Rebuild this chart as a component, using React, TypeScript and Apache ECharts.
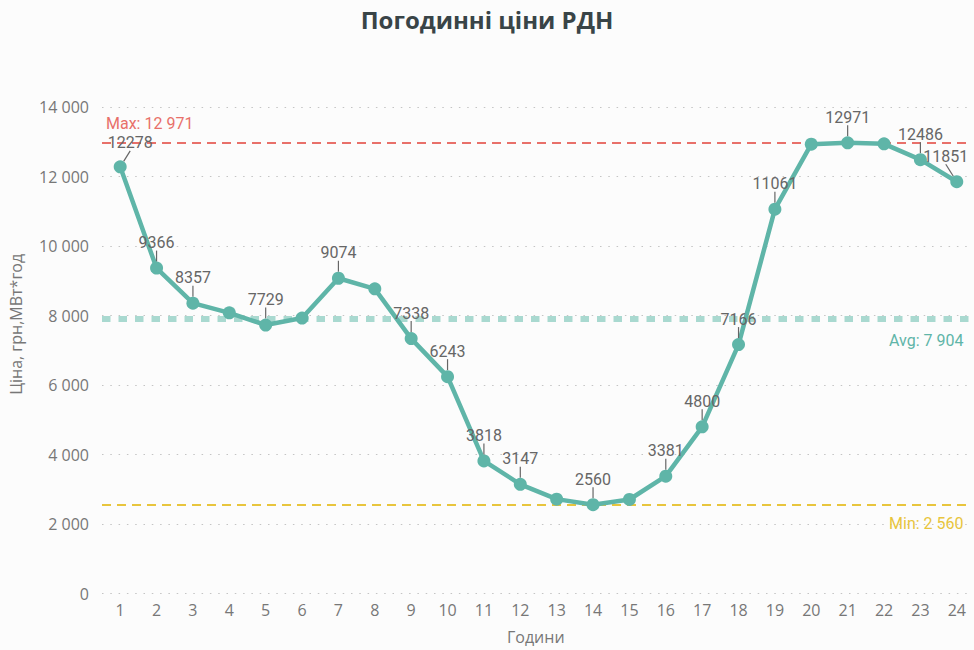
import React, { useEffect, useRef } from "react";
import * as echarts from "echarts";

const TITLE = "Погодинні ціни РДН";
const Y_NAME = "Ціна, грн,МВт*год";
const X_NAME = "Години";

const hours = [1, 2, 3, 4, 5, 6, 7, 8, 9, 10, 11, 12, 13, 14, 15, 16, 17, 18, 19, 20, 21, 22, 23, 24];
const prices = [12278, 9366, 8357, 8080, 7729, 7930, 9074, 8770, 7338, 6243, 3818, 3147, 2720, 2560, 2710, 3381, 4800, 7166, 11061, 12930, 12971, 12940, 12486, 11851];
const labeledHours = [1, 2, 3, 5, 7, 9, 10, 11, 12, 14, 16, 17, 18, 19, 21, 23, 24];
const yTicks = [0, 2000, 4000, 6000, 8000, 10000, 12000, 14000];

const fmt = (v: number) => String(Math.round(v)).replace(/\B(?=(\d{3})+(?!\d))/g, " ");

const TEAL = "#5fb5a8";
const RED = "#e8706a";
const YELLOW = "#e8c53d";
const AVG_LINE = "#a9d9d0";
const GREY = "#777777";

export default function App() {
  const ref = useRef<HTMLDivElement>(null);
  useEffect(() => {
    if (!ref.current) return;
    const chart = echarts.init(ref.current, null, { renderer: "svg" });
    const lastIdx = hours.length - 1;
    const data = hours.map((h, i) => {
      const show = labeledHours.includes(h);
      return {
        value: [h, prices[i]],
        label: { show },
        labelLine: { show },
      };
    });
    chart.setOption({
      animation: false,
      backgroundColor: "#fcfcfc",
      title: {
        text: TITLE,
        left: "center",
        top: 2,
        textStyle: { fontFamily: "Open Sans", fontWeight: "bold", fontSize: 24, color: "#394447" },
      },
      grid: { left: 101, right: 4.5, top: 107, bottom: 56.3, containLabel: false },
      xAxis: {
        type: "value",
        min: 0.5,
        max: 24.35,
        name: X_NAME,
        nameLocation: "middle",
        nameGap: 35,
        nameTextStyle: { fontFamily: "Open Sans", fontSize: 16, color: GREY },
        axisLine: { show: false },
        axisTick: { show: false },
        splitLine: { show: false },
        axisLabel: {
          customValues: hours,
          fontFamily: "Open Sans",
          fontSize: 16,
          color: GREY,
          margin: 8,
        },
      },
      yAxis: {
        type: "value",
        min: yTicks[0],
        max: yTicks[yTicks.length - 1],
        interval: yTicks[1] - yTicks[0],
        name: Y_NAME,
        nameLocation: "middle",
        nameGap: 78,
        nameTextStyle: { fontFamily: "Open Sans", fontSize: 16, color: GREY, padding: [0, 0, 0, 52] },
        axisLine: { show: false },
        axisTick: { show: false },
        axisLabel: {
          fontFamily: "Open Sans",
          fontSize: 16,
          color: GREY,
          margin: 13,
          formatter: (v: number) => fmt(v),
        },
        splitLine: { show: true, lineStyle: { color: "#c4c4c4", width: 1.2, type: [1.5, 6.8] } },
      },
      series: [
        {
          type: "line",
          data,
          z: 6,
          symbol: "circle",
          symbolSize: 13,
          lineStyle: { color: TEAL, width: 4.5 },
          itemStyle: { color: TEAL },
          label: {
            position: "top",
            distance: 3,
            fontFamily: "Roboto",
            fontSize: 16,
            lineHeight: 14,
            color: "#666666",
            formatter: (p: any) => String(p.value[1]),
          },
          labelLine: { lineStyle: { color: "#666666", width: 1.2 } },
          labelLayout: (p: any) => ({
            dy: p.dataIndex === 0 ? -7.5 : -9,
            dx: p.dataIndex === 0 ? 10 : p.dataIndex === lastIdx ? -11 : 0,
          }),
          markLine: {
            silent: true,
            z: 1,
            symbol: ["none", "none"],
            data: [
              {
                type: "max",
                valueIndex: 1,
                lineStyle: { color: RED, width: 2, type: [9, 6] },
                label: {
                  position: "insideStartTop",
                  distance: [4, 12.5],
                  fontFamily: "Roboto",
                  fontSize: 16,
                  lineHeight: 14,
                  color: RED,
                  formatter: (p: any) => "Max: " + fmt(p.value),
                },
              },
              {
                type: "average",
                valueIndex: 1,
                lineStyle: { color: AVG_LINE, width: 6, type: [8.5, 8] },
                label: {
                  position: "insideEndBottom",
                  distance: [6, 14],
                  fontFamily: "Roboto",
                  fontSize: 16,
                  color: TEAL,
                  formatter: (p: any) => "Avg: " + fmt(p.value),
                },
              },
              {
                type: "min",
                valueIndex: 1,
                lineStyle: { color: YELLOW, width: 2, type: [9, 6] },
                label: {
                  position: "insideEndBottom",
                  distance: [6, 11],
                  fontFamily: "Roboto",
                  fontSize: 16,
                  color: YELLOW,
                  formatter: (p: any) => "Min: " + fmt(p.value),
                },
              },
            ],
          },
        },
      ],
    });
    return () => chart.dispose();
  }, []);
  return (
    <div
      ref={ref}
      style={{ position: "fixed", left: 0, top: 0, width: 974, height: 650 }}
    />
  );
}
